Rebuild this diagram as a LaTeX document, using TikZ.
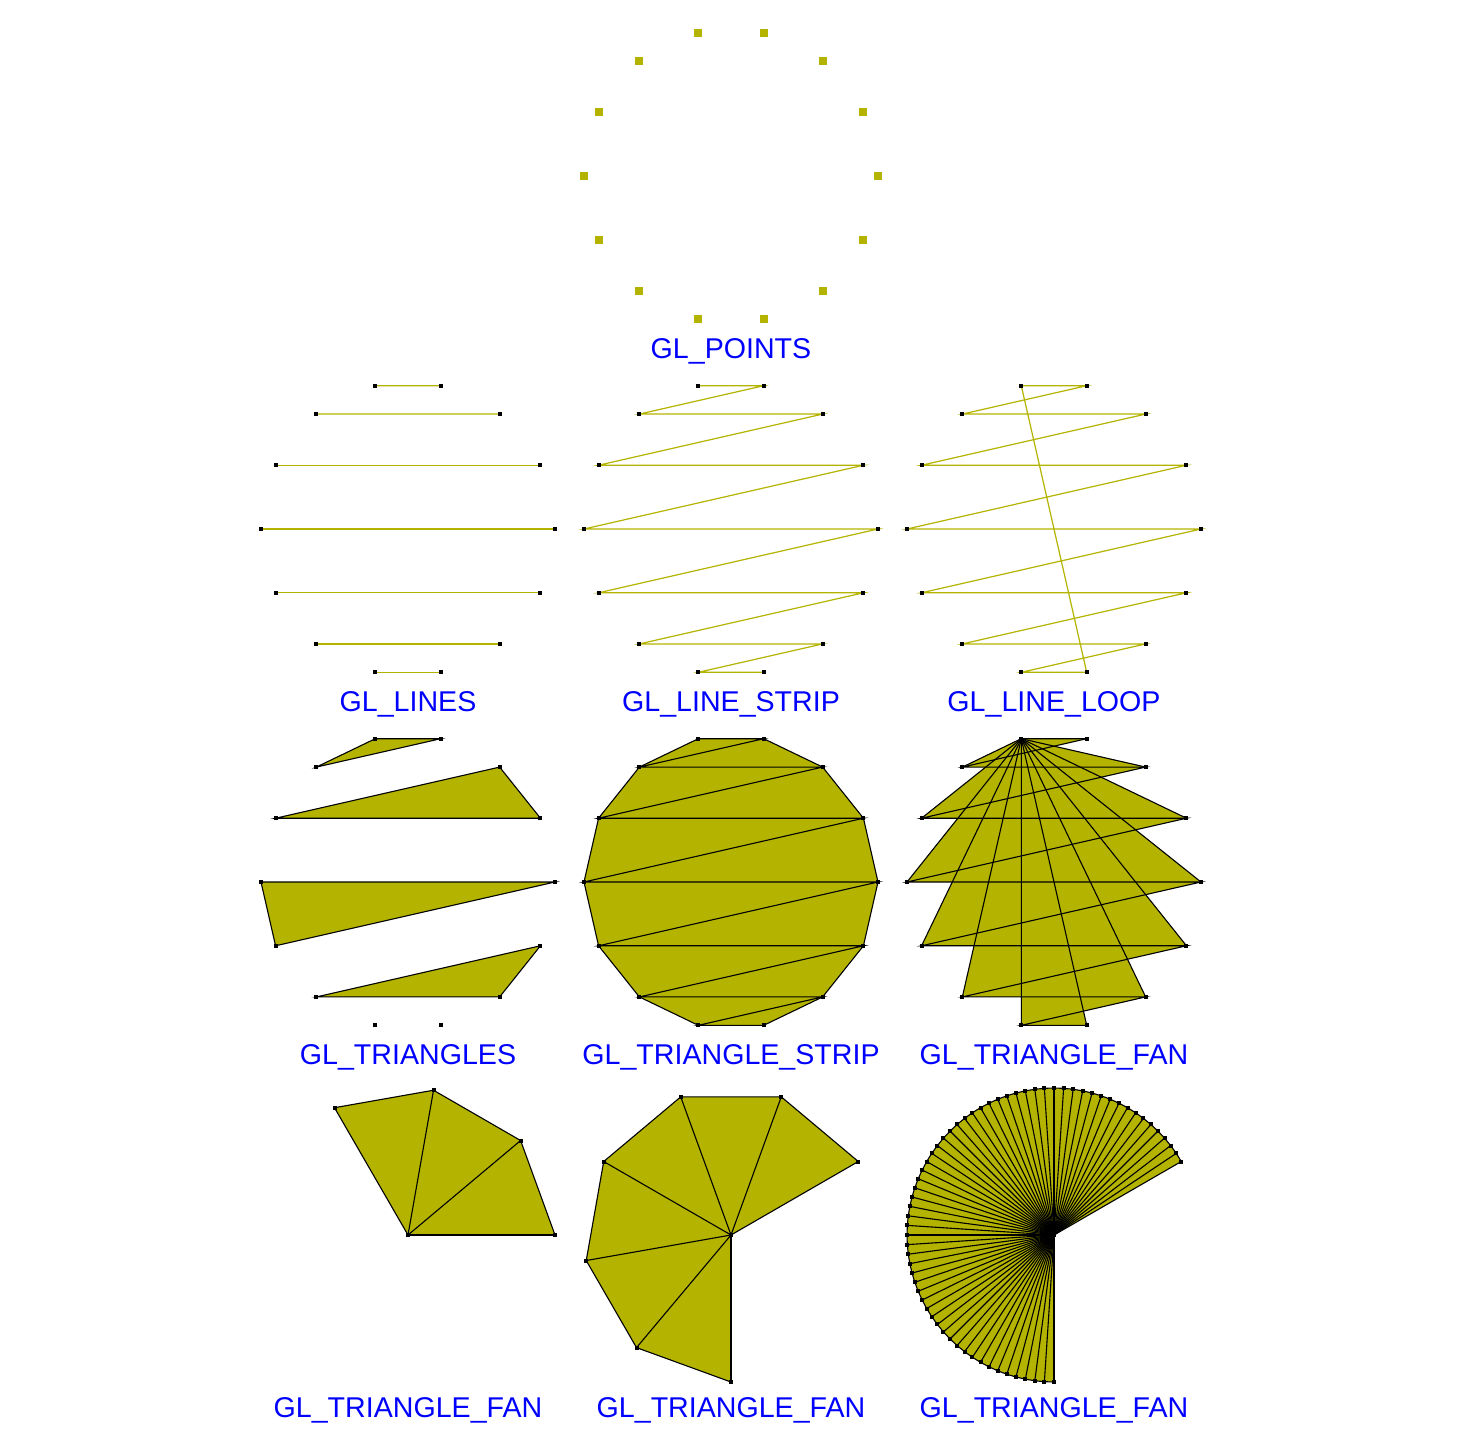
\documentclass[tikz,border=0pt]{standalone}
\usepackage{fontspec}
\setmainfont{Liberation Sans}
\definecolor{glfill}{RGB}{179,179,0}
\definecolor{glblue}{RGB}{0,0,255}
\tikzset{
 outl/.style={draw=black, line width=0.55pt},
 glline/.style={draw=glfill, line width=0.6pt},
 lbl/.style={text=glblue, font=\fontsize{14.3pt}{16pt}\selectfont, anchor=base, inner sep=0pt},
}
\newcommand\vdot[1]{\fill[black] (#1) +(-2,-2) rectangle +(2,2);}
\newcommand\bigpt[1]{\fill[glfill] (#1) +(-4,-4) rectangle +(4,4);}
\newcommand\defpoly[3]{%
 \foreach \k in {0,...,13}{%
   \pgfmathtruncatemacro\jj{floor(\k/2)}%
   \pgfmathsetmacro\ang{ifthenelse(mod(\k,2)==0,(4+\jj)*360/14,(3-\jj)*360/14)}%
   \coordinate (#1-\k) at ({#2+147*cos(\ang)},{#3-147*sin(\ang)});
 }}
\newcommand\botfan[6]{%
  \coordinate (#1-c) at (#2,#3);
  \foreach \i in {0,...,#6}{\coordinate (#1-\i) at ({#2+147*cos(#4+#5*\i)},{#3-147*sin(#4+#5*\i)});}
  \fill[glfill] (#1-c) \foreach \i in {0,...,#6}{ -- (#1-\i)} -- cycle;
  \foreach \i in {0,...,#6}{\draw[outl] (#1-c) -- (#1-\i);}
  \draw[outl] (#1-0) \foreach \i in {1,...,#6}{ -- (#1-\i)};
  \foreach \i in {0,...,#6}{\vdot{#1-\i}}
  \vdot{#1-c}
}
\begin{document}
\begin{tikzpicture}[x=0.5pt,y=-0.5pt]
\useasboundingbox (0,0) rectangle (1463,1441);
% GL_POINTS
\defpoly{P}{731}{176}
\foreach \k in {0,...,13}{\bigpt{P-\k}}
\node[lbl] (lpoints) at (731,358) {GL\_POINTS};
% GL_LINES
\defpoly{L}{408}{529}
\foreach \k in {0,2,...,12}{\pgfmathtruncatemacro\kn{\k+1}\draw[glline] (L-\k) -- (L-\kn);}
\foreach \k in {0,...,13}{\vdot{L-\k}}
\node[lbl] (llines) at (408,711) {GL\_LINES};
% GL_LINE_STRIP
\defpoly{S}{731}{529}
\draw[glline] (S-0) \foreach \k in {1,...,13}{ -- (S-\k)};
\foreach \k in {0,...,13}{\vdot{S-\k}}
\node[lbl] (lstrip) at (731,711) {GL\_LINE\_STRIP};
% GL_LINE_LOOP
\defpoly{O}{1054}{529}
\draw[glline] (O-0) \foreach \k in {1,...,13}{ -- (O-\k)} -- cycle;
\foreach \k in {0,...,13}{\vdot{O-\k}}
\node[lbl] (lloop) at (1054,711) {GL\_LINE\_LOOP};
% GL_TRIANGLES
\defpoly{T}{408}{882}
\foreach \k in {0,3,6,9}{\pgfmathtruncatemacro\ka{\k+1}\pgfmathtruncatemacro\kb{\k+2}%
  \filldraw[fill=glfill, outl] (T-\k) -- (T-\ka) -- (T-\kb) -- cycle;}
\foreach \k in {0,...,13}{\vdot{T-\k}}
\node[lbl] (ltri) at (408,1064) {GL\_TRIANGLES};
% GL_TRIANGLE_STRIP
\defpoly{R}{731}{882}
\fill[glfill] (R-0)--(R-2)--(R-4)--(R-6)--(R-8)--(R-10)--(R-12)--(R-13)--(R-11)--(R-9)--(R-7)--(R-5)--(R-3)--(R-1)--cycle;
\draw[outl] (R-0) \foreach \k in {1,...,13}{ -- (R-\k)};
\foreach \k in {0,...,11}{\pgfmathtruncatemacro\kb{\k+2}\draw[outl] (R-\k) -- (R-\kb);}
\foreach \k in {0,...,13}{\vdot{R-\k}}
\node[lbl] (ltstrip) at (731,1064) {GL\_TRIANGLE\_STRIP};
% GL_TRIANGLE_FAN (polygon)
\defpoly{F}{1054}{882}
\foreach \k in {1,...,12}{\pgfmathtruncatemacro\kn{\k+1}\fill[glfill] (F-0) -- (F-\k) -- (F-\kn) -- cycle;}
\foreach \k in {1,...,13}{\draw[outl] (F-0) -- (F-\k);}
\draw[outl] (F-1) \foreach \k in {2,...,13}{ -- (F-\k)};
\foreach \k in {0,...,13}{\vdot{F-\k}}
\node[lbl] (ltfan) at (1054,1064) {GL\_TRIANGLE\_FAN};
% bottom fans
\botfan{A}{408}{1235}{0}{40}{3}
\node[lbl] (lfan1) at (408,1417) {GL\_TRIANGLE\_FAN};
\botfan{B}{731}{1235}{30}{40}{6}
\node[lbl] (lfan2) at (731,1417) {GL\_TRIANGLE\_FAN};
\botfan{C}{1054}{1235}{30}{3.75}{64}
\node[lbl] (lfan3) at (1054,1417) {GL\_TRIANGLE\_FAN};
\end{tikzpicture}
\end{document}
